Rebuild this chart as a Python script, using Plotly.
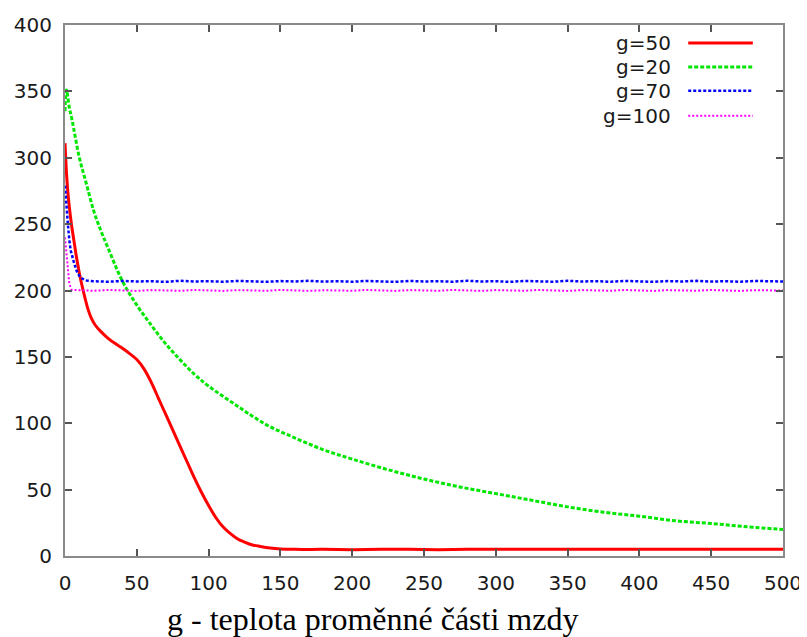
import plotly.graph_objects as go

# ---- data ----
x_g50 = [0, 1, 2, 3, 4, 5, 6, 7, 8, 9, 10, 12, 14, 16, 18, 21, 25, 30, 35, 40, 45, 50, 55, 60,
         65, 70, 75, 80, 85, 90, 95, 100, 105, 110, 115, 120, 125, 130, 136, 143, 150, 160,
         180, 200, 220, 240, 260, 280, 300, 320, 340, 360, 380, 400, 420, 440, 460, 480, 500]
y_g50 = [311, 289, 274, 263, 254, 246, 239, 232, 225, 219, 213, 203, 194, 186, 180, 174, 169,
         164, 160, 156.5, 152.5, 148, 141, 131, 119, 107, 95, 83, 71, 59, 48, 38, 29, 22, 17,
         13, 10.5, 8.5, 7.2, 6, 5.3, 5, 5, 4.8, 5, 5, 4.8, 5, 5, 5, 5, 5, 5, 5, 5, 5, 5, 5, 5]

x_g20 = [0, 1, 3, 5, 10, 15, 20, 25, 30, 40, 50, 60, 70, 80, 90, 100, 120, 140, 160, 180, 200,
         225, 250, 275, 300, 325, 350, 375, 400, 425, 450, 475, 500]
y_g20 = [335, 351, 338, 328, 300, 280, 260, 245, 232, 207, 189, 174, 160, 148, 137, 128, 113,
         99, 89, 80, 73, 65, 58, 52, 47, 42, 37, 33, 30, 26.5, 24.5, 22, 20]

x_g70 = [0, 1, 2, 3, 4, 6, 8, 10, 12, 15, 20, 30, 40, 50, 60, 70, 80, 90, 100, 110, 120,
         130, 140, 150, 160, 170, 180, 190, 200, 210, 220, 230, 240, 250, 260, 270, 280, 290,
         300, 310, 320, 330, 340, 350, 360, 370, 380, 390, 400, 410, 420, 430, 440, 450, 460,
         470, 480, 490, 500]
y_g70 = [279, 262, 250, 238, 230, 222, 215, 211, 209, 207.5, 207, 206.6, 207.2, 206.8, 207,
         206.5, 207.3, 206.8, 207, 206.6, 207.2, 206.9, 206.5, 207.1, 206.8, 207.3, 206.7, 207,
         206.6, 207.2, 206.9, 206.5, 207.2, 206.8, 207, 206.6, 207.3, 206.8, 207, 206.5, 207.2,
         206.9, 206.6, 207.3, 206.8, 207, 206.6, 207.2, 206.9, 206.5, 207.1, 206.8, 207.3, 206.7,
         207, 206.6, 207.2, 206.9, 206.8]

x_g100 = [0, 1, 2, 3, 4.6, 10, 20, 30, 40, 50, 60, 70, 80, 90, 100, 110, 120, 130, 140, 150,
          160, 170, 180, 190, 200, 210, 220, 230, 240, 250, 260, 270, 280, 290, 300, 310, 320,
          330, 340, 350, 360, 370, 380, 390, 400, 410, 420, 430, 440, 450, 460, 470, 480, 490,
          500]
y_g100 = [240, 230, 215, 205, 200.5, 200.2, 199.8, 200.4, 200, 199.7, 200.3, 200, 199.8, 200.4,
          200.1, 199.7, 200.3, 200, 199.8, 200.4, 200, 199.7, 200.2, 200, 199.8, 200.4, 200.1,
          199.7, 200.3, 200, 199.8, 200.4, 200, 199.7, 200.3, 200.1, 199.8, 200.4, 200, 199.7,
          200.3, 200, 199.8, 200.4, 200.1, 199.7, 200.3, 200, 199.8, 200.4, 200, 199.7, 200.2,
          200, 200]

series_names = ["g=50", "g=20", "g=70", "g=100"]
x_ticks = [0, 50, 100, 150, 200, 250, 300, 350, 400, 450, 500]
y_ticks = [0, 50, 100, 150, 200, 250, 300, 350, 400]
x_title = "g - teplota proměnné části mzdy"

styles = [
    dict(color="#ff0000", width=3, dash="solid", shape="spline"),
    dict(color="#00e600", width=3, dash="4px,2px", shape="spline"),
    dict(color="#0000ff", width=2.5, dash="3px,2px", shape="linear"),
    dict(color="#ff00ff", width=2, dash="2px,2px", shape="linear"),
]

fig = go.Figure()
for xs, ys, name, st in zip([x_g50, x_g20, x_g70, x_g100],
                            [y_g50, y_g20, y_g70, y_g100], series_names, styles):
    fig.add_trace(go.Scatter(x=xs, y=ys, mode="lines", name=name,
                             line=dict(color=st["color"], width=st["width"],
                                       dash=st["dash"], shape=st["shape"]),
                             showlegend=False))

label_font = dict(family="DejaVu Sans, Arial, sans-serif", size=20, color="#1a1a1a")

# gnuplot-style legend (text right-aligned, sample to the right)
legend_y = [0.966, 0.921, 0.876, 0.829]
for name, st, ly in zip(series_names, styles, legend_y):
    fig.add_annotation(x=0.847, y=ly, xref="paper", yref="paper", text=name,
                       showarrow=False, xanchor="right", yanchor="middle", font=label_font)
    fig.add_shape(type="line", xref="paper", yref="paper", x0=0.868, x1=0.958,
                  y0=ly, y1=ly,
                  line=dict(color=st["color"], width=st["width"], dash=st["dash"]))

# caption below the plot
fig.add_annotation(x=0.4276, y=0, xref="paper", yref="paper", text=x_title,
                   showarrow=False, xanchor="center", yanchor="middle", yshift=-63,
                   font=dict(family="Liberation Serif, Times New Roman, serif", size=32,
                             color="#000000"))

axis_common = dict(showline=True, linecolor="#8a8a8a", linewidth=2, mirror="ticks",
                   ticks="inside", ticklen=7, tickwidth=1.5, tickcolor="#555555",
                   showgrid=False, zeroline=False, tickfont=label_font, automargin=False)

fig.update_xaxes(range=[0, 500], tickvals=x_ticks, ticktext=[str(v) for v in x_ticks],
                 ticklabelstandoff=8, **axis_common)
fig.update_yaxes(range=[0, 400], tickvals=y_ticks, ticktext=[str(v) for v in y_ticks],
                 ticklabelstandoff=7, **axis_common)

fig.update_layout(width=799, height=629, margin=dict(l=57, r=24, t=17, b=81),
                  plot_bgcolor="white", paper_bgcolor="white", showlegend=False)

fig.write_html("out.html")
